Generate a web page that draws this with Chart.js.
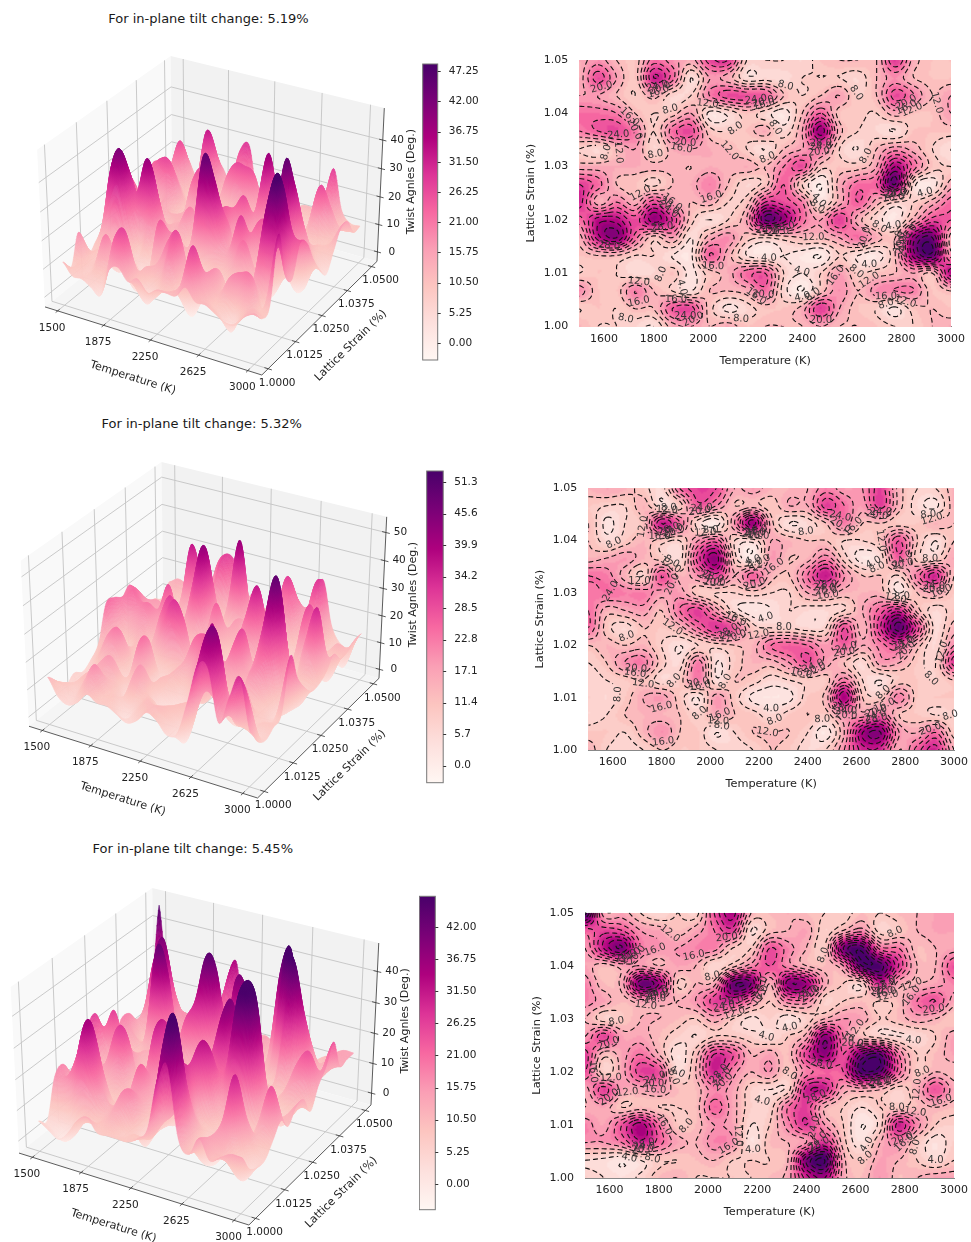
<!DOCTYPE html>
<html>
<head>
<meta charset="utf-8">
<title>Twist angles</title>
<script src="https://cdn.jsdelivr.net/npm/chart.js@4"></script>
<style>
  html, body { margin: 0; background: #fff; overflow: hidden; width: 971px; height: 1242px; }
  canvas { position: absolute; }
  .title { position: absolute; font: 13px "DejaVu Sans", sans-serif; color: #1a1a1a; transform: translate(-50%, -50%); white-space: nowrap; }
</style>
</head>
<body>
<script>
// Columns are temperatures, rows run from strain 1.05 down to 1.00
const temperatures = [1500,1575,1650,1725,1800,1875,1950,2025,2100,2175,2250,2325,2400,2475,2550,2625,2700,2775,2850,2925,3000];
const strains = [1.05,1.0467,1.0433,1.04,1.0367,1.0333,1.03,1.0267,1.0233,1.02,1.0167,1.0133,1.01,1.0067,1.0033,1.0];

const twist519 = [
  [14,18,12,10,22,18,14,26,28,8,8,8,6,10,12,12,12,28,14,10,10],
  [14,26,16,10,32,22,4,16,14,5,6,5,8,8,8,6,12,18,12,10,10],
  [16,16,12,8,14,6,8,20,26,26,24,12,8,12,16,8,12,26,20,12,16],
  [22,22,20,12,8,10,16,3,5,10,6,2,12,24,10,9,8,14,10,10,16],
  [20,24,26,20,8,22,26,10,8,10,14,6,16,38,14,8,6,4,10,10,10],
  [8,6,12,16,6,14,16,14,12,8,4,12,16,22,8,4,12,18,14,8,4],
  [14,14,14,14,13,13,12,14,13,14,12,20,26,10,10,10,16,36,22,10,8],
  [28,22,12,10,7,12,14,20,12,6,10,24,8,0,14,22,24,44,6,2,14],
  [30,14,20,14,26,16,12,14,8,10,28,26,20,4,14,24,14,8,8,14,22],
  [22,34,34,26,38,28,10,4,8,16,44,38,22,16,28,14,6,2,14,26,24],
  [14,34,40,22,10,16,4,14,18,10,8,10,12,12,16,22,14,12,38,44,14],
  [10,12,12,8,8,4,3,24,14,4,2,4,2,0,8,4,2,12,38,46,18],
  [8,10,8,5,6,10,3,10,14,22,24,8,4,8,16,8,10,12,16,12,34],
  [18,10,10,20,12,8,4,12,12,14,22,6,0,10,18,12,18,20,20,10,12],
  [8,10,8,12,12,24,26,10,3,6,10,10,14,28,16,10,8,3,10,12,10],
  [12,8,8,6,4,14,16,12,14,10,12,12,12,16,12,12,10,8,8,12,14]
];
const twist532 = [
  [14,16,14,10,6,24,30,28,16,18,14,14,16,22,18,20,30,14,8,8,14],
  [10,8,8,14,6,10,26,20,12,14,10,16,16,30,24,18,30,14,6,3,14],
  [12,3,8,12,36,24,6,2,20,42,14,4,6,12,22,12,12,10,10,14,12],
  [12,6,10,14,10,8,20,26,8,6,16,14,12,12,8,8,12,28,12,4,12],
  [14,16,18,14,10,6,30,42,10,2,18,12,14,22,10,2,6,26,10,8,16],
  [24,22,14,8,28,14,20,30,16,26,14,12,24,36,20,12,12,8,22,34,12],
  [22,24,22,22,18,18,10,8,8,10,8,8,16,18,14,14,14,4,12,16,10],
  [24,14,16,18,12,24,30,18,6,2,4,8,6,6,8,16,26,34,14,6,10],
  [24,10,6,12,10,14,24,32,26,10,8,8,6,8,28,14,32,50,30,6,14],
  [12,14,12,14,8,4,8,10,12,14,24,26,24,18,26,16,22,28,14,6,20],
  [8,12,20,22,10,6,22,4,10,14,14,20,28,18,12,6,18,16,10,8,30],
  [6,8,10,12,6,10,22,5,12,10,6,8,10,10,22,8,4,10,10,8,12],
  [8,6,10,16,18,10,4,18,10,3,2,3,10,14,40,12,10,22,10,10,10],
  [6,8,12,14,14,12,8,16,12,10,6,10,12,10,20,18,24,12,10,8,8],
  [10,10,8,14,20,12,10,4,8,12,12,12,8,2,16,40,44,20,16,24,10],
  [14,8,6,8,12,10,10,8,6,8,12,10,6,8,20,34,34,16,26,34,16]
];
const twist545 = [
  [46,14,14,8,4,8,6,24,34,12,10,12,10,8,6,10,8,10,12,14,14],
  [22,26,24,16,14,10,14,20,26,4,10,12,14,6,12,18,6,8,12,14,14],
  [16,32,40,20,16,16,18,18,8,8,24,18,12,8,40,46,22,20,10,12,14],
  [14,10,14,16,12,14,12,4,10,18,24,18,12,10,16,44,46,28,12,12,24],
  [18,10,14,42,36,8,12,14,42,40,12,38,36,14,8,6,30,14,12,14,18],
  [18,14,10,14,14,12,16,26,28,18,8,18,18,6,8,10,8,10,20,24,14],
  [12,6,8,12,12,10,8,14,8,3,6,2,6,12,16,14,8,10,14,12,8],
  [16,26,14,14,10,6,4,8,8,6,4,8,14,38,20,10,6,4,4,8,14],
  [26,10,14,20,12,2,10,28,24,12,14,10,26,38,24,40,44,20,8,10,14],
  [24,6,14,26,24,4,12,30,18,12,16,8,18,22,24,46,44,22,8,12,10],
  [14,26,14,14,16,10,10,18,14,6,4,6,30,30,14,14,12,6,12,24,14],
  [12,14,8,10,8,8,10,22,14,6,6,20,26,12,8,4,8,8,10,12,10],
  [18,14,24,34,20,8,10,16,14,4,8,18,28,16,8,0,6,30,18,8,6],
  [16,16,20,30,22,14,12,18,16,2,10,12,16,28,10,2,12,18,8,2,6],
  [4,3,1,4,8,8,10,12,8,8,8,12,40,48,14,8,14,12,8,4,8],
  [6,4,2,5,10,12,8,8,8,8,10,14,30,36,14,10,16,10,12,14,14]
];

const tempTicks3d = [1500,1875,2250,2625,3000];
const strainTicks3d = [1.0,1.0125,1.025,1.0375,1.05];
const tempTicks = [1600,1800,2000,2200,2400,2600,2800,3000];
const strainTicks = [1.0,1.01,1.02,1.03,1.04,1.05];
const contourLevels = [0,4,8,12,16,20,24,28,32,36,40,44,48];
const cbarTicks519 = [0,5.25,10.5,15.75,21,26.25,31.5,36.75,42,47.25];
const cbarTicks532 = [0,5.7,11.4,17.1,22.8,28.5,34.2,39.9,45.6,51.3];
const cbarTicks545 = [0,5.25,10.5,15.75,21,26.25,31.5,36.75,42];
const zTicks519 = [0,10,20,30,40];
const zTicks532 = [0,10,20,30,40,50];
const zTicks545 = [0,10,20,30,40];

const FONT = '"DejaVu Sans", sans-serif';
const TEXT = '#222';
const RDPU = [[255,247,243],[253,224,221],[252,197,192],[250,159,181],[247,104,161],[221,52,151],[174,1,126],[122,1,119],[73,0,106]];

const panels = [
  { title: 'For in-plane tilt change: 5.19%', titleX: 208.5, titleY: 18, grid: twist519, cbarTicks: cbarTicks519, zTicks: zTicks519, digits: 2,
    vmin: -2.95, vmax: 48.5, zlim: [-3.5, 51], fl: [45,303], fr: [262,375], br: [377,262], tb: [170,56], top: 30, height: 370,
    cbar: { left: 422.7, width: 15, top: 64, bottom: 360 }, plot: { left: 579.3, right: 951, top: 60, bottom: 326.5 } },
  { title: 'For in-plane tilt change: 5.32%', titleX: 201.7, titleY: 423, grid: twist532, cbarTicks: cbarTicks532, zTicks: zTicks532, digits: 1,
    vmin: -3.1, vmax: 53.3, zlim: [-3.4, 55.5], fl: [29,725], fr: [257,798], br: [379,678], tb: [162,462], top: 435, height: 395,
    cbar: { left: 426.7, width: 16.5, top: 471, bottom: 782.7 }, plot: { left: 588.3, right: 955, top: 488.3, bottom: 750 } },
  { title: 'For in-plane tilt change: 5.45%', titleX: 192.8, titleY: 848, grid: twist545, cbarTicks: cbarTicks545, zTicks: zTicks545, digits: 2,
    vmin: -4.2, vmax: 47, zlim: [-4, 49], fl: [19,1151], fr: [249,1225], br: [371,1104], tb: [153,888], top: 860, height: 382,
    cbar: { left: 419.3, width: 16, top: 896.3, bottom: 1209.7 }, plot: { left: 585, right: 958, top: 912.7, bottom: 1178 } }
];

function cmap(t) {
  t = Math.max(0, Math.min(1, t)) * (RDPU.length - 1);
  const i = Math.min(RDPU.length - 2, Math.floor(t)), f = t - i;
  const a = RDPU[i], b = RDPU[i + 1];
  return 'rgb(' + Math.round(a[0] + (b[0] - a[0]) * f) + ',' + Math.round(a[1] + (b[1] - a[1]) * f) + ',' + Math.round(a[2] + (b[2] - a[2]) * f) + ')';
}

// Smooth resampling of the read grid, only for drawing the surface and the contours
function catmull(p0, p1, p2, p3, t) {
  return 0.5 * (2 * p1 + (p2 - p0) * t + (2 * p0 - 5 * p1 + 4 * p2 - p3) * t * t + (3 * p1 - p0 - 3 * p2 + p3) * t * t * t);
}
function resample(grid, k) {
  const rows = grid.length, cols = grid[0].length;
  const at = (j, i) => grid[Math.max(0, Math.min(rows - 1, j))][Math.max(0, Math.min(cols - 1, i))];
  const out = [];
  for (let j = 0; j <= (rows - 1) * k; j++) {
    const row = [];
    const j0 = Math.min(rows - 2, Math.floor(j / k)), v = j / k - j0;
    for (let i = 0; i <= (cols - 1) * k; i++) {
      const i0 = Math.min(cols - 2, Math.floor(i / k)), u = i / k - i0;
      const c = [-1, 0, 1, 2].map(d => catmull(at(j0 + d, i0 - 1), at(j0 + d, i0), at(j0 + d, i0 + 1), at(j0 + d, i0 + 2), u));
      row.push(catmull(c[0], c[1], c[2], c[3], v));
    }
    out.push(row);
  }
  return out;
}

// Marching squares, segments chained into polylines so the dashes run on
function traceLevel(F, L) {
  const ny = F.length, nx = F[0].length;
  const adj = new Map(), pos = new Map();
  const link = (a, b) => {
    if (!adj.has(a)) adj.set(a, []);
    if (!adj.has(b)) adj.set(b, []);
    adj.get(a).push(b); adj.get(b).push(a);
  };
  const hKey = (i, j) => 2 * (j * nx + i), vKey = (i, j) => 2 * (j * nx + i) + 1;
  const hNode = (i, j) => {
    const k = hKey(i, j);
    if (!pos.has(k)) pos.set(k, [i + (L - F[j][i]) / (F[j][i + 1] - F[j][i]), j]);
    return k;
  };
  const vNode = (i, j) => {
    const k = vKey(i, j);
    if (!pos.has(k)) pos.set(k, [i, j + (L - F[j][i]) / (F[j + 1][i] - F[j][i])]);
    return k;
  };
  for (let j = 0; j < ny - 1; j++) {
    for (let i = 0; i < nx - 1; i++) {
      const a = F[j][i] >= L, b = F[j][i + 1] >= L, c = F[j + 1][i + 1] >= L, d = F[j + 1][i] >= L;
      const top = a !== b ? hNode(i, j) : null, right = b !== c ? vNode(i + 1, j) : null;
      const bottom = c !== d ? hNode(i, j + 1) : null, left = d !== a ? vNode(i, j) : null;
      const list = [top, right, bottom, left].filter(n => n !== null);
      if (list.length === 2) link(list[0], list[1]);
      else if (list.length === 4) {
        const mid = (F[j][i] + F[j][i + 1] + F[j + 1][i] + F[j + 1][i + 1]) / 4 >= L;
        if (a === mid) { link(top, right); link(bottom, left); }
        else { link(top, left); link(right, bottom); }
      }
    }
  }
  const seen = new Set(), lines = [];
  const walk = start => {
    const line = [pos.get(start)];
    seen.add(start);
    let cur = start;
    for (;;) {
      const next = adj.get(cur).find(n => !seen.has(n));
      if (next === undefined) break;
      seen.add(next);
      line.push(pos.get(next));
      cur = next;
    }
    if (adj.get(cur).includes(start) && line.length > 2) line.push(pos.get(start));
    lines.push(line);
  };
  adj.forEach((n, k) => { if (n.length === 1 && !seen.has(k)) walk(k); });
  adj.forEach((n, k) => { if (!seen.has(k)) walk(k); });
  return lines;
}

function addCanvas(left, top, width, height) {
  const c = document.createElement('canvas');
  c.style.left = left + 'px';
  c.style.top = top + 'px';
  c.style.width = width + 'px';
  c.style.height = height + 'px';
  c.width = width;
  c.height = height;
  document.body.appendChild(c);
  return c;
}

function makeContour(p) {
  const k = 10, F = resample(p.grid, k);
  const ny = F.length, nx = F[0].length;
  const box = p.plot, pw = box.right - box.left, ph = box.bottom - box.top;
  const left = Math.round(box.left) - 59, width = 971 - left, top = Math.round(box.top) - 10, height = Math.round(box.bottom) + 45 - top;
  const T0 = temperatures[0], T1 = temperatures[temperatures.length - 1];
  const S0 = strains[strains.length - 1], S1 = strains[0];

  // filled bands
  const img = document.createElement('canvas');
  img.width = nx; img.height = ny;
  const ictx = img.getContext('2d');
  for (let j = 0; j < ny; j++) for (let i = 0; i < nx; i++) {
    const band = Math.floor(F[j][i] / 2) * 2 + 1;
    ictx.fillStyle = cmap((band - p.vmin) / (p.vmax - p.vmin));
    ictx.fillRect(i, j, 1, 1);
  }

  const datasets = [], labels = [];
  contourLevels.forEach(L => {
    traceLevel(F, L).forEach(line => {
      const pts = line.map(q => ({ x: T0 + q[0] / (nx - 1) * (T1 - T0), y: S1 - q[1] / (ny - 1) * (S1 - S0) }));
      const px = pts.map(q => [(q.x - T0) / (T1 - T0) * pw, (S1 - q.y) / (S1 - S0) * ph]);
      let len = 0;
      for (let i = 1; i < px.length; i++) len += Math.hypot(px[i][0] - px[i - 1][0], px[i][1] - px[i - 1][1]);
      const style = { showLine: true, pointRadius: 0, borderColor: '#111', borderWidth: 1.1, borderDash: [5, 3], fill: false };
      if (len > 55 && L <= 28) {
        const m = Math.floor(px.length / 2);
        const a = Math.max(0, m - 3), b = Math.min(px.length - 1, m + 3);
        let ang = Math.atan2(px[b][1] - px[a][1], px[b][0] - px[a][0]);
        if (ang > Math.PI / 2) ang -= Math.PI;
        if (ang < -Math.PI / 2) ang += Math.PI;
        labels.push({ x: pts[m].x, y: pts[m].y, ang: ang, text: L.toFixed(1) });
        const near = i => Math.hypot(px[i][0] - px[m][0], px[i][1] - px[m][1]) < 11;
        let s = m, e = m;
        while (s > 0 && near(s)) s--;
        while (e < px.length - 1 && near(e)) e++;
        datasets.push(Object.assign({ data: pts.slice(0, s + 1) }, style));
        datasets.push(Object.assign({ data: pts.slice(e) }, style));
      } else {
        datasets.push(Object.assign({ data: pts }, style));
      }
    });
  });

  new Chart(addCanvas(left, top, width, height), {
    type: 'scatter',
    data: { datasets: datasets },
    options: {
      responsive: false, animation: false, events: [], parsing: false, normalized: true,
      layout: { padding: { top: box.top - top, right: 971 - box.right, left: 0, bottom: 0 } },
      plugins: { legend: { display: false }, tooltip: { enabled: false } },
      scales: {
        x: {
          type: 'linear', min: 1500, max: 3000,
          grid: { display: false, drawTicks: true, tickLength: 3 },
          border: { color: '#888', width: 1 },
          afterBuildTicks: s => { s.ticks = tempTicks.map(v => ({ value: v })); },
          ticks: { autoSkip: false, maxRotation: 0, color: TEXT, padding: 3, callback: v => String(v), font: { family: FONT, size: 11 } },
          title: { display: true, text: 'Temperature (K)', color: TEXT, padding: { top: 2 }, font: { family: FONT, size: 11.3 } },
          afterFit: s => { s.height = height - (box.bottom - top); }
        },
        y: {
          type: 'linear', min: 1.0, max: 1.05,
          grid: { display: false },
          border: { color: '#888', width: 1 },
          afterBuildTicks: s => { s.ticks = strainTicks.map(v => ({ value: v })); },
          ticks: { autoSkip: false, color: TEXT, padding: 3, callback: v => v.toFixed(2), font: { family: FONT, size: 11 } },
          title: { display: true, text: 'Lattice Strain (%)', color: TEXT, padding: { bottom: 4 }, font: { family: FONT, size: 11.3 } },
          afterFit: s => { s.width = box.left - left; }
        }
      }
    },
    plugins: [{
      id: 'contourFill',
      beforeDatasetsDraw(chart) {
        const a = chart.chartArea, c = chart.ctx;
        c.save();
        c.imageSmoothingEnabled = true;
        c.drawImage(img, a.left, a.top, a.right - a.left, a.bottom - a.top);
        c.restore();
      },
      afterDatasetsDraw(chart) {
        const c = chart.ctx;
        c.save();
        c.fillStyle = '#333';
        c.font = '10px ' + FONT;
        c.textAlign = 'center';
        c.textBaseline = 'middle';
        labels.forEach(l => {
          c.save();
          c.translate(chart.scales.x.getPixelForValue(l.x), chart.scales.y.getPixelForValue(l.y));
          c.rotate(l.ang);
          c.fillText(l.text, 0, 0);
          c.restore();
        });
        c.restore();
      }
    }]
  });
}

function makeColorbar(p) {
  const b = p.cbar, width = 64, pad = 12;
  const left = Math.floor(b.left), top = Math.floor(b.top) - pad, height = Math.ceil(b.bottom) + pad - top;
  new Chart(addCanvas(left, top, width, height), {
    type: 'scatter',
    data: { datasets: [] },
    options: {
      responsive: false, animation: false, events: [],
      layout: { padding: { left: b.left - left, top: b.top - top, bottom: top + height - b.bottom, right: 0 } },
      plugins: { legend: { display: false }, tooltip: { enabled: false } },
      scales: {
        x: { display: false, min: 0, max: 1 },
        y: {
          position: 'right', min: p.vmin, max: p.vmax,
          grid: { display: false },
          border: { display: false },
          afterBuildTicks: s => { s.ticks = p.cbarTicks.map(v => ({ value: v })); },
          afterFit: s => { s.width = width - b.width - (b.left - left); },
          ticks: { color: TEXT, padding: 3, autoSkip: false, callback: v => v.toFixed(p.digits), font: { family: FONT, size: 10.5 } }
        }
      }
    },
    plugins: [{
      id: 'cbarFill',
      beforeDatasetsDraw(chart) {
        const a = chart.chartArea, c = chart.ctx, y = chart.scales.y;
        const g = c.createLinearGradient(0, y.getPixelForValue(p.vmin), 0, y.getPixelForValue(p.vmax));
        RDPU.forEach((col, i) => g.addColorStop(i / (RDPU.length - 1), 'rgb(' + col.join(',') + ')'));
        c.save();
        c.fillStyle = g;
        c.fillRect(a.left, a.top, a.right - a.left, a.bottom - a.top);
        c.strokeStyle = '#777';
        c.lineWidth = 1;
        c.strokeRect(a.left, a.top, a.right - a.left, a.bottom - a.top);
        c.strokeStyle = '#333';
        p.cbarTicks.forEach(v => {
          const py = Math.round(y.getPixelForValue(v)) + 0.5;
          c.beginPath(); c.moveTo(a.right, py); c.lineTo(a.right + 3, py); c.stroke();
        });
        c.restore();
      }
    }]
  });
}

// mplot3d style view: elev 30, azim -60, then fitted to the corners measured in the picture
function makeProjection(p, xlim, ylim, zlim) {
  const s = 1.8294640721620434 * 25 / 24 / Math.hypot(4, 4, 3);
  const B = [4 * s, 4 * s, 3 * s], dist = 10;
  const el = 30 * Math.PI / 180, az = -60 * Math.PI / 180;
  const w = [Math.cos(el) * Math.cos(az), Math.cos(el) * Math.sin(az), Math.sin(el)];
  const un = Math.hypot(w[1], w[0]);
  const u = [-w[1] / un, w[0] / un, 0];
  const v = [w[1] * u[2] - w[2] * u[1], w[2] * u[0] - w[0] * u[2], w[0] * u[1] - w[1] * u[0]];
  const raw = (nx, ny, nz) => {
    const d = [(nx - 0.5) * B[0], (ny - 0.5) * B[1], (nz - 0.5) * B[2]];
    const xv = u[0] * d[0] + u[1] * d[1] + u[2] * d[2];
    const yv = v[0] * d[0] + v[1] * d[1] + v[2] * d[2];
    const zv = w[0] * d[0] + w[1] * d[1] + w[2] * d[2];
    return [xv / (dist - zv), yv / (dist - zv), zv];
  };
  const rFL = raw(0, 0, 0), rBR = raw(1, 1, 0), rFR = raw(1, 0, 0), rTB = raw(0, 1, 1);
  const ax = (p.br[0] - p.fl[0]) / (rBR[0] - rFL[0]), bx = p.fl[0] - ax * rFL[0];
  const ay = (p.tb[1] - p.fr[1]) / (rTB[1] - rFR[1]), by = p.fr[1] - ay * rFR[1];
  return (T, S, Z) => {
    const r = raw((T - xlim[0]) / (xlim[1] - xlim[0]), (S - ylim[0]) / (ylim[1] - ylim[0]), (Z - zlim[0]) / (zlim[1] - zlim[0]));
    return { x: ax * r[0] + bx, y: ay * r[1] + by, depth: r[2] };
  };
}

function makeSurface(p) {
  const xlim = [1500 - 105, 3000 + 105], ylim = [1.0 - 0.0028, 1.05 + 0.0028], zlim = p.zlim;
  const project = makeProjection(p, xlim, ylim, zlim);
  const width = 425, top = p.top, height = p.height;
  const k = 10, F = resample(p.grid, k);
  const ny = F.length, nx = F[0].length;
  const Tat = i => 1500 + i / (nx - 1) * 1500, Sat = j => 1.05 - j / (ny - 1) * 0.05;
  const norm = z => (z - p.vmin) / (p.vmax - p.vmin);

  const quads = [];
  const P = F.map((row, j) => row.map((z, i) => project(Tat(i), Sat(j), z)));
  for (let j = 0; j < ny - 1; j++) for (let i = 0; i < nx - 1; i++) {
    const zs = [F[j][i], F[j][i + 1], F[j + 1][i + 1], F[j + 1][i]];
    const q = [P[j][i], P[j][i + 1], P[j + 1][i + 1], P[j + 1][i]];
    const lo = zs.indexOf(Math.min.apply(null, zs)), hi = zs.indexOf(Math.max.apply(null, zs));
    quads.push({ q: q, lo: q[lo], hi: q[hi], cLo: cmap(norm(zs[lo])), cHi: cmap(norm(zs[hi])),
      span: zs[hi] - zs[lo], mid: cmap(norm((zs[0] + zs[1] + zs[2] + zs[3]) / 4)),
      depth: (q[0].depth + q[1].depth + q[2].depth + q[3].depth) / 4 });
  }
  quads.sort((a, b) => a.depth - b.depth);

  // grid lines of the box, drawn as ordinary line datasets
  const gridLine = pts => ({ data: pts.map(q => { const r = project(q[0], q[1], q[2]); return { x: r.x, y: r.y }; }), showLine: true, pointRadius: 0, borderColor: '#c4c4c4', borderWidth: 0.9, fill: false });
  const datasets = [];
  tempTicks3d.forEach(t => datasets.push(gridLine([[t, ylim[0], zlim[0]], [t, ylim[1], zlim[0]], [t, ylim[1], zlim[1]]])));
  strainTicks3d.forEach(s => datasets.push(gridLine([[xlim[1], s, zlim[0]], [xlim[0], s, zlim[0]], [xlim[0], s, zlim[1]]])));
  p.zTicks.forEach(z => datasets.push(gridLine([[xlim[0], ylim[0], z], [xlim[0], ylim[1], z], [xlim[1], ylim[1], z]])));

  new Chart(addCanvas(0, top, width, height), {
    type: 'scatter',
    data: { datasets: datasets },
    options: {
      responsive: false, animation: false, events: [], parsing: false, normalized: true,
      layout: { padding: 0 },
      plugins: { legend: { display: false }, tooltip: { enabled: false } },
      scales: {
        x: { display: false, type: 'linear', min: 0, max: width },
        y: { display: false, type: 'linear', min: top, max: top + height, reverse: true }
      }
    },
    plugins: [{
      id: 'surface3d',
      beforeDatasetsDraw(chart) {
        const c = chart.ctx, sx = chart.scales.x, sy = chart.scales.y;
        const poly = (pts, fill) => {
          c.beginPath();
          pts.forEach((q, i) => {
            const r = project(q[0], q[1], q[2]);
            c[i ? 'lineTo' : 'moveTo'](sx.getPixelForValue(r.x), sy.getPixelForValue(r.y));
          });
          c.closePath();
          c.fillStyle = fill;
          c.fill();
        };
        poly([[xlim[0], ylim[0], zlim[0]], [xlim[0], ylim[1], zlim[0]], [xlim[0], ylim[1], zlim[1]], [xlim[0], ylim[0], zlim[1]]], '#f9f9f9');
        poly([[xlim[0], ylim[1], zlim[0]], [xlim[1], ylim[1], zlim[0]], [xlim[1], ylim[1], zlim[1]], [xlim[0], ylim[1], zlim[1]]], '#f2f2f2');
        poly([[xlim[0], ylim[0], zlim[0]], [xlim[1], ylim[0], zlim[0]], [xlim[1], ylim[1], zlim[0]], [xlim[0], ylim[1], zlim[0]]], '#f5f5f5');
      },
      afterDatasetsDraw(chart) {
        const c = chart.ctx, sx = chart.scales.x, sy = chart.scales.y;
        const px = r => [sx.getPixelForValue(r.x), sy.getPixelForValue(r.y)];
        c.save();
        c.lineWidth = 0.8;
        c.strokeStyle = '#333';
        const seg = (a, b) => {
          const m = px(project(a[0], a[1], a[2])), n = px(project(b[0], b[1], b[2]));
          c.beginPath(); c.moveTo(m[0], m[1]); c.lineTo(n[0], n[1]); c.stroke();
        };
        seg([xlim[0], ylim[0], zlim[0]], [xlim[1], ylim[0], zlim[0]]);
        seg([xlim[1], ylim[0], zlim[0]], [xlim[1], ylim[1], zlim[0]]);
        seg([xlim[1], ylim[1], zlim[0]], [xlim[1], ylim[1], zlim[1]]);
        tempTicks3d.forEach(t => seg([t, ylim[0] - 0.0008, zlim[0]], [t, ylim[0] + 0.0008, zlim[0]]));
        strainTicks3d.forEach(s => seg([xlim[1] - 28, s, zlim[0]], [xlim[1] + 28, s, zlim[0]]));
        p.zTicks.forEach(z => seg([xlim[1] - 28, ylim[1], z], [xlim[1] + 28, ylim[1], z]));

        // steep facets get a gradient so the slopes do not show as stripes
        c.lineWidth = 0.5;
        quads.forEach(o => {
          let paint = o.mid;
          if (o.span > 0.4) {
            const a = px(o.lo), b = px(o.hi);
            if (Math.hypot(b[0] - a[0], b[1] - a[1]) > 0.5) {
              paint = c.createLinearGradient(a[0], a[1], b[0], b[1]);
              paint.addColorStop(0, o.cLo);
              paint.addColorStop(1, o.cHi);
            }
          }
          c.beginPath();
          o.q.forEach((r, i) => {
            const m = px(r);
            c[i ? 'lineTo' : 'moveTo'](m[0], m[1]);
          });
          c.closePath();
          c.fillStyle = paint;
          c.strokeStyle = paint;
          c.fill();
          c.stroke();
        });

        c.fillStyle = TEXT;
        c.font = '10.5px ' + FONT;
        c.textAlign = 'center';
        c.textBaseline = 'middle';
        tempTicks3d.forEach(t => { const m = px(project(t, ylim[0], zlim[0])); c.fillText(String(t), m[0] - 5.5, m[1] + 17); });
        strainTicks3d.forEach(s => { const m = px(project(xlim[1], s, zlim[0])); c.fillText(s.toFixed(4), m[0] + 9, m[1] + 14); });
        p.zTicks.forEach(z => { const m = px(project(xlim[1], ylim[1], z)); c.fillText(String(z), m[0] + 14.5, m[1]); });

        const text = (str, x, y, rot) => {
          c.save(); c.translate(x, y); c.rotate(rot); c.fillText(str, 0, 0); c.restore();
        };
        c.font = '11px ' + FONT;
        const a = px(project(xlim[0], ylim[0], zlim[0])), b = px(project(xlim[1], ylim[0], zlim[0])), d = px(project(xlim[1], ylim[1], zlim[0])), e = px(project(xlim[1], ylim[1], zlim[1]));
        text('Temperature (K)', (a[0] + b[0]) / 2 - 20.5, (a[1] + b[1]) / 2 + 37, Math.atan2(b[1] - a[1], b[0] - a[0]));
        text('Lattice Strain (%)', (b[0] + d[0]) / 2 + 31.5, (b[1] + d[1]) / 2 + 27.5, Math.atan2(d[1] - b[1], d[0] - b[0]));
        text('Twist Agnles (Deg.)', d[0] + 34, (d[1] + e[1]) / 2 - 3, -Math.PI / 2);
        c.restore();
      }
    }]
  });
}

panels.forEach(p => {
  const t = document.createElement('div');
  t.className = 'title';
  t.textContent = p.title;
  t.style.left = p.titleX + 'px';
  t.style.top = p.titleY + 'px';
  document.body.appendChild(t);
  makeSurface(p);
  makeColorbar(p);
  makeContour(p);
});
</script>
</body>
</html>
